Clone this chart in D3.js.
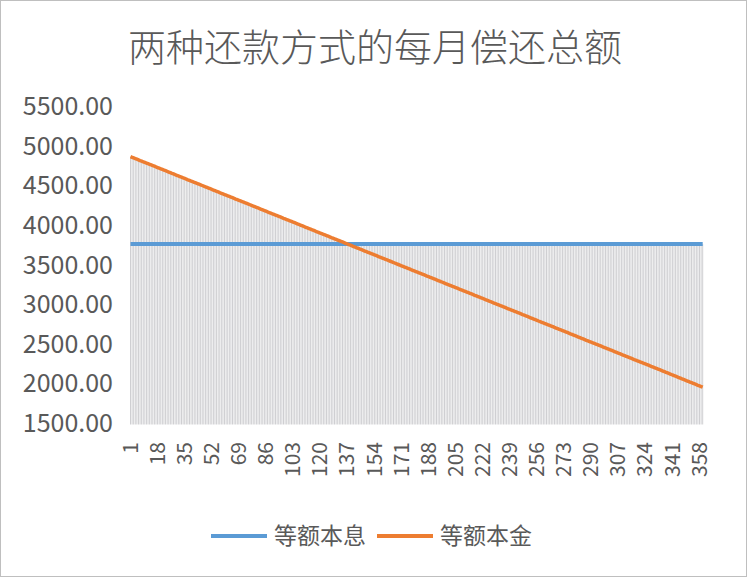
<!DOCTYPE html>
<html>
<head>
<meta charset="utf-8">
<script src="https://cdn.jsdelivr.net/npm/d3@7"></script>
<style>
  html, body { margin: 0; padding: 0; background: #ffffff; }
  svg { display: block; }
</style>
</head>
<body>
<svg id="chart" width="748" height="578"></svg>
<script>
const title = "两种还款方式的每月偿还总额";
const seriesNames = ["等额本息", "等额本金"];
const seriesColors = ["#5b9bd5", "#ed7d31"];
const yTicks = [1500, 2000, 2500, 3000, 3500, 4000, 4500, 5000, 5500];
const xTickLabels = [1,18,35,52,69,86,103,120,137,154,171,188,205,222,239,256,273,290,307,324,341,358];
const months = d3.range(1, 361);

// 等额本息 (equal installment) — constant monthly payment
const equalInstallment = [
3758,3758,3758,3758,3758,3758,3758,3758,3758,3758,
3758,3758,3758,3758,3758,3758,3758,3758,3758,3758,
3758,3758,3758,3758,3758,3758,3758,3758,3758,3758,
3758,3758,3758,3758,3758,3758,3758,3758,3758,3758,
3758,3758,3758,3758,3758,3758,3758,3758,3758,3758,
3758,3758,3758,3758,3758,3758,3758,3758,3758,3758,
3758,3758,3758,3758,3758,3758,3758,3758,3758,3758,
3758,3758,3758,3758,3758,3758,3758,3758,3758,3758,
3758,3758,3758,3758,3758,3758,3758,3758,3758,3758,
3758,3758,3758,3758,3758,3758,3758,3758,3758,3758,
3758,3758,3758,3758,3758,3758,3758,3758,3758,3758,
3758,3758,3758,3758,3758,3758,3758,3758,3758,3758,
3758,3758,3758,3758,3758,3758,3758,3758,3758,3758,
3758,3758,3758,3758,3758,3758,3758,3758,3758,3758,
3758,3758,3758,3758,3758,3758,3758,3758,3758,3758,
3758,3758,3758,3758,3758,3758,3758,3758,3758,3758,
3758,3758,3758,3758,3758,3758,3758,3758,3758,3758,
3758,3758,3758,3758,3758,3758,3758,3758,3758,3758,
3758,3758,3758,3758,3758,3758,3758,3758,3758,3758,
3758,3758,3758,3758,3758,3758,3758,3758,3758,3758,
3758,3758,3758,3758,3758,3758,3758,3758,3758,3758,
3758,3758,3758,3758,3758,3758,3758,3758,3758,3758,
3758,3758,3758,3758,3758,3758,3758,3758,3758,3758,
3758,3758,3758,3758,3758,3758,3758,3758,3758,3758,
3758,3758,3758,3758,3758,3758,3758,3758,3758,3758,
3758,3758,3758,3758,3758,3758,3758,3758,3758,3758,
3758,3758,3758,3758,3758,3758,3758,3758,3758,3758,
3758,3758,3758,3758,3758,3758,3758,3758,3758,3758,
3758,3758,3758,3758,3758,3758,3758,3758,3758,3758,
3758,3758,3758,3758,3758,3758,3758,3758,3758,3758,
3758,3758,3758,3758,3758,3758,3758,3758,3758,3758,
3758,3758,3758,3758,3758,3758,3758,3758,3758,3758,
3758,3758,3758,3758,3758,3758,3758,3758,3758,3758,
3758,3758,3758,3758,3758,3758,3758,3758,3758,3758,
3758,3758,3758,3758,3758,3758,3758,3758,3758,3758,
3758,3758,3758,3758,3758,3758,3758,3758,3758,3758
];

// 等额本金 (equal principal) — declining monthly payment
const equalPrincipal = [
4861,4853,4845,4837,4829,4821,4812,4804,4796,4788,
4780,4772,4764,4756,4748,4740,4731,4723,4715,4707,
4699,4691,4683,4675,4667,4659,4650,4642,4634,4626,
4618,4610,4602,4594,4586,4578,4569,4561,4553,4545,
4537,4529,4521,4513,4505,4497,4488,4480,4472,4464,
4456,4448,4440,4432,4424,4416,4407,4399,4391,4383,
4375,4367,4359,4351,4343,4335,4326,4318,4310,4302,
4294,4286,4278,4270,4262,4254,4245,4237,4229,4221,
4213,4205,4197,4189,4181,4173,4164,4156,4148,4140,
4132,4124,4116,4108,4100,4092,4083,4075,4067,4059,
4051,4043,4035,4027,4019,4011,4002,3994,3986,3978,
3970,3962,3954,3946,3938,3930,3921,3913,3905,3897,
3889,3881,3873,3865,3857,3849,3840,3832,3824,3816,
3808,3800,3792,3784,3776,3768,3759,3751,3743,3735,
3727,3719,3711,3703,3695,3687,3678,3670,3662,3654,
3646,3638,3630,3622,3614,3606,3597,3589,3581,3573,
3565,3557,3549,3541,3533,3525,3516,3508,3500,3492,
3484,3476,3468,3460,3452,3444,3435,3427,3419,3411,
3403,3395,3387,3379,3371,3363,3354,3346,3338,3330,
3322,3314,3306,3298,3290,3282,3273,3265,3257,3249,
3241,3233,3225,3217,3209,3201,3192,3184,3176,3168,
3160,3152,3144,3136,3128,3120,3111,3103,3095,3087,
3079,3071,3063,3055,3047,3039,3030,3022,3014,3006,
2998,2990,2982,2974,2966,2958,2949,2941,2933,2925,
2917,2909,2901,2893,2885,2877,2868,2860,2852,2844,
2836,2828,2820,2812,2804,2796,2787,2779,2771,2763,
2755,2747,2739,2731,2723,2715,2706,2698,2690,2682,
2674,2666,2658,2650,2642,2634,2625,2617,2609,2601,
2593,2585,2577,2569,2561,2553,2544,2536,2528,2520,
2512,2504,2496,2488,2480,2472,2463,2455,2447,2439,
2431,2423,2415,2407,2399,2391,2382,2374,2366,2358,
2350,2342,2334,2326,2318,2310,2301,2293,2285,2277,
2269,2261,2253,2245,2237,2229,2220,2212,2204,2196,
2188,2180,2172,2164,2156,2148,2139,2131,2123,2115,
2106,2098,2090,2082,2074,2066,2057,2049,2041,2033,
2025,2017,2009,2001,1993,1985,1976,1968,1960,1952
];

const FONT = "'Noto Sans CJK SC', 'Noto Sans', sans-serif";
const FONT_LIGHT = "'Noto Sans CJK SC Light', 'Noto Sans CJK SC', sans-serif";
const TEXT = "#595959";

const svg = d3.select("#chart");

// outer frame
svg.append("rect")
  .attr("x", 0.5).attr("y", 0.5)
  .attr("width", 746).attr("height", 576)
  .attr("fill", "#ffffff")
  .attr("stroke", "#bfbfbf").attr("stroke-width", 1);

const x = d3.scaleBand().domain(months).range([129.7, 703.5]).padding(0);
const y = d3.scaleLinear().domain([1500, 5500]).range([423, 106]);
const cx = m => x(m) + x.bandwidth() / 2;

const rows = months.map((m, i) => ({ m, a: equalInstallment[i], b: equalPrincipal[i] }));

// drop lines
svg.append("g")
  .selectAll("line")
  .data(rows)
  .join("line")
  .attr("x1", d => cx(d.m)).attr("x2", d => cx(d.m))
  .attr("y1", d => y(Math.max(d.a, d.b)))
  .attr("y2", y(1500) + 1.5)
  .attr("stroke", "#cfcfd2")
  .attr("stroke-width", 1);

// lines
const lineA = d3.line().x(d => cx(d.m)).y(d => y(d.a));
const lineB = d3.line().x(d => cx(d.m)).y(d => y(d.b));
svg.append("path").datum(rows).attr("d", lineA)
  .attr("fill", "none").attr("stroke", seriesColors[0]).attr("stroke-width", 4);
svg.append("path").datum(rows).attr("d", lineB)
  .attr("fill", "none").attr("stroke", seriesColors[1]).attr("stroke-width", 3.5);

// y axis
const yAxis = svg.append("g")
  .attr("transform", "translate(113,0)")
  .call(d3.axisLeft(y).tickValues(yTicks).tickFormat(d3.format(".2f")).tickSize(0).tickPadding(0));
yAxis.select(".domain").remove();
yAxis.selectAll("text")
  .attr("font-family", FONT).attr("font-size", 25).attr("fill", TEXT)
  .attr("dy", "0.34em");

// x axis
const xAxis = svg.append("g")
  .attr("transform", `translate(0,${y(1500) + 19})`)
  .call(d3.axisBottom(x).tickValues(xTickLabels).tickSize(0).tickPadding(0));
xAxis.select(".domain").remove();
xAxis.selectAll("text")
  .attr("font-family", FONT).attr("font-size", 21).attr("fill", TEXT)
  .attr("transform", "rotate(-90)")
  .attr("text-anchor", "end")
  .attr("x", 0).attr("y", 0)
  .attr("dy", "0.34em");

// title
svg.append("text")
  .attr("x", 375).attr("y", 61)
  .attr("text-anchor", "middle")
  .attr("font-family", FONT_LIGHT).attr("font-size", 38).attr("font-weight", 300)
  .attr("fill", TEXT)
  .text(title);

// legend
const legend = [
  { name: seriesNames[0], color: seriesColors[0], x1: 211, x2: 267, tx: 274 },
  { name: seriesNames[1], color: seriesColors[1], x1: 377, x2: 433, tx: 440 }
];
const lg = svg.append("g");
legend.forEach(l => {
  lg.append("line").attr("x1", l.x1).attr("x2", l.x2).attr("y1", 536).attr("y2", 536)
    .attr("stroke", l.color).attr("stroke-width", 4);
  lg.append("text").attr("x", l.tx).attr("y", 536).attr("dy", "0.36em")
    .attr("font-family", FONT).attr("font-size", 23).attr("fill", TEXT)
    .text(l.name);
});
</script>
</body>
</html>
